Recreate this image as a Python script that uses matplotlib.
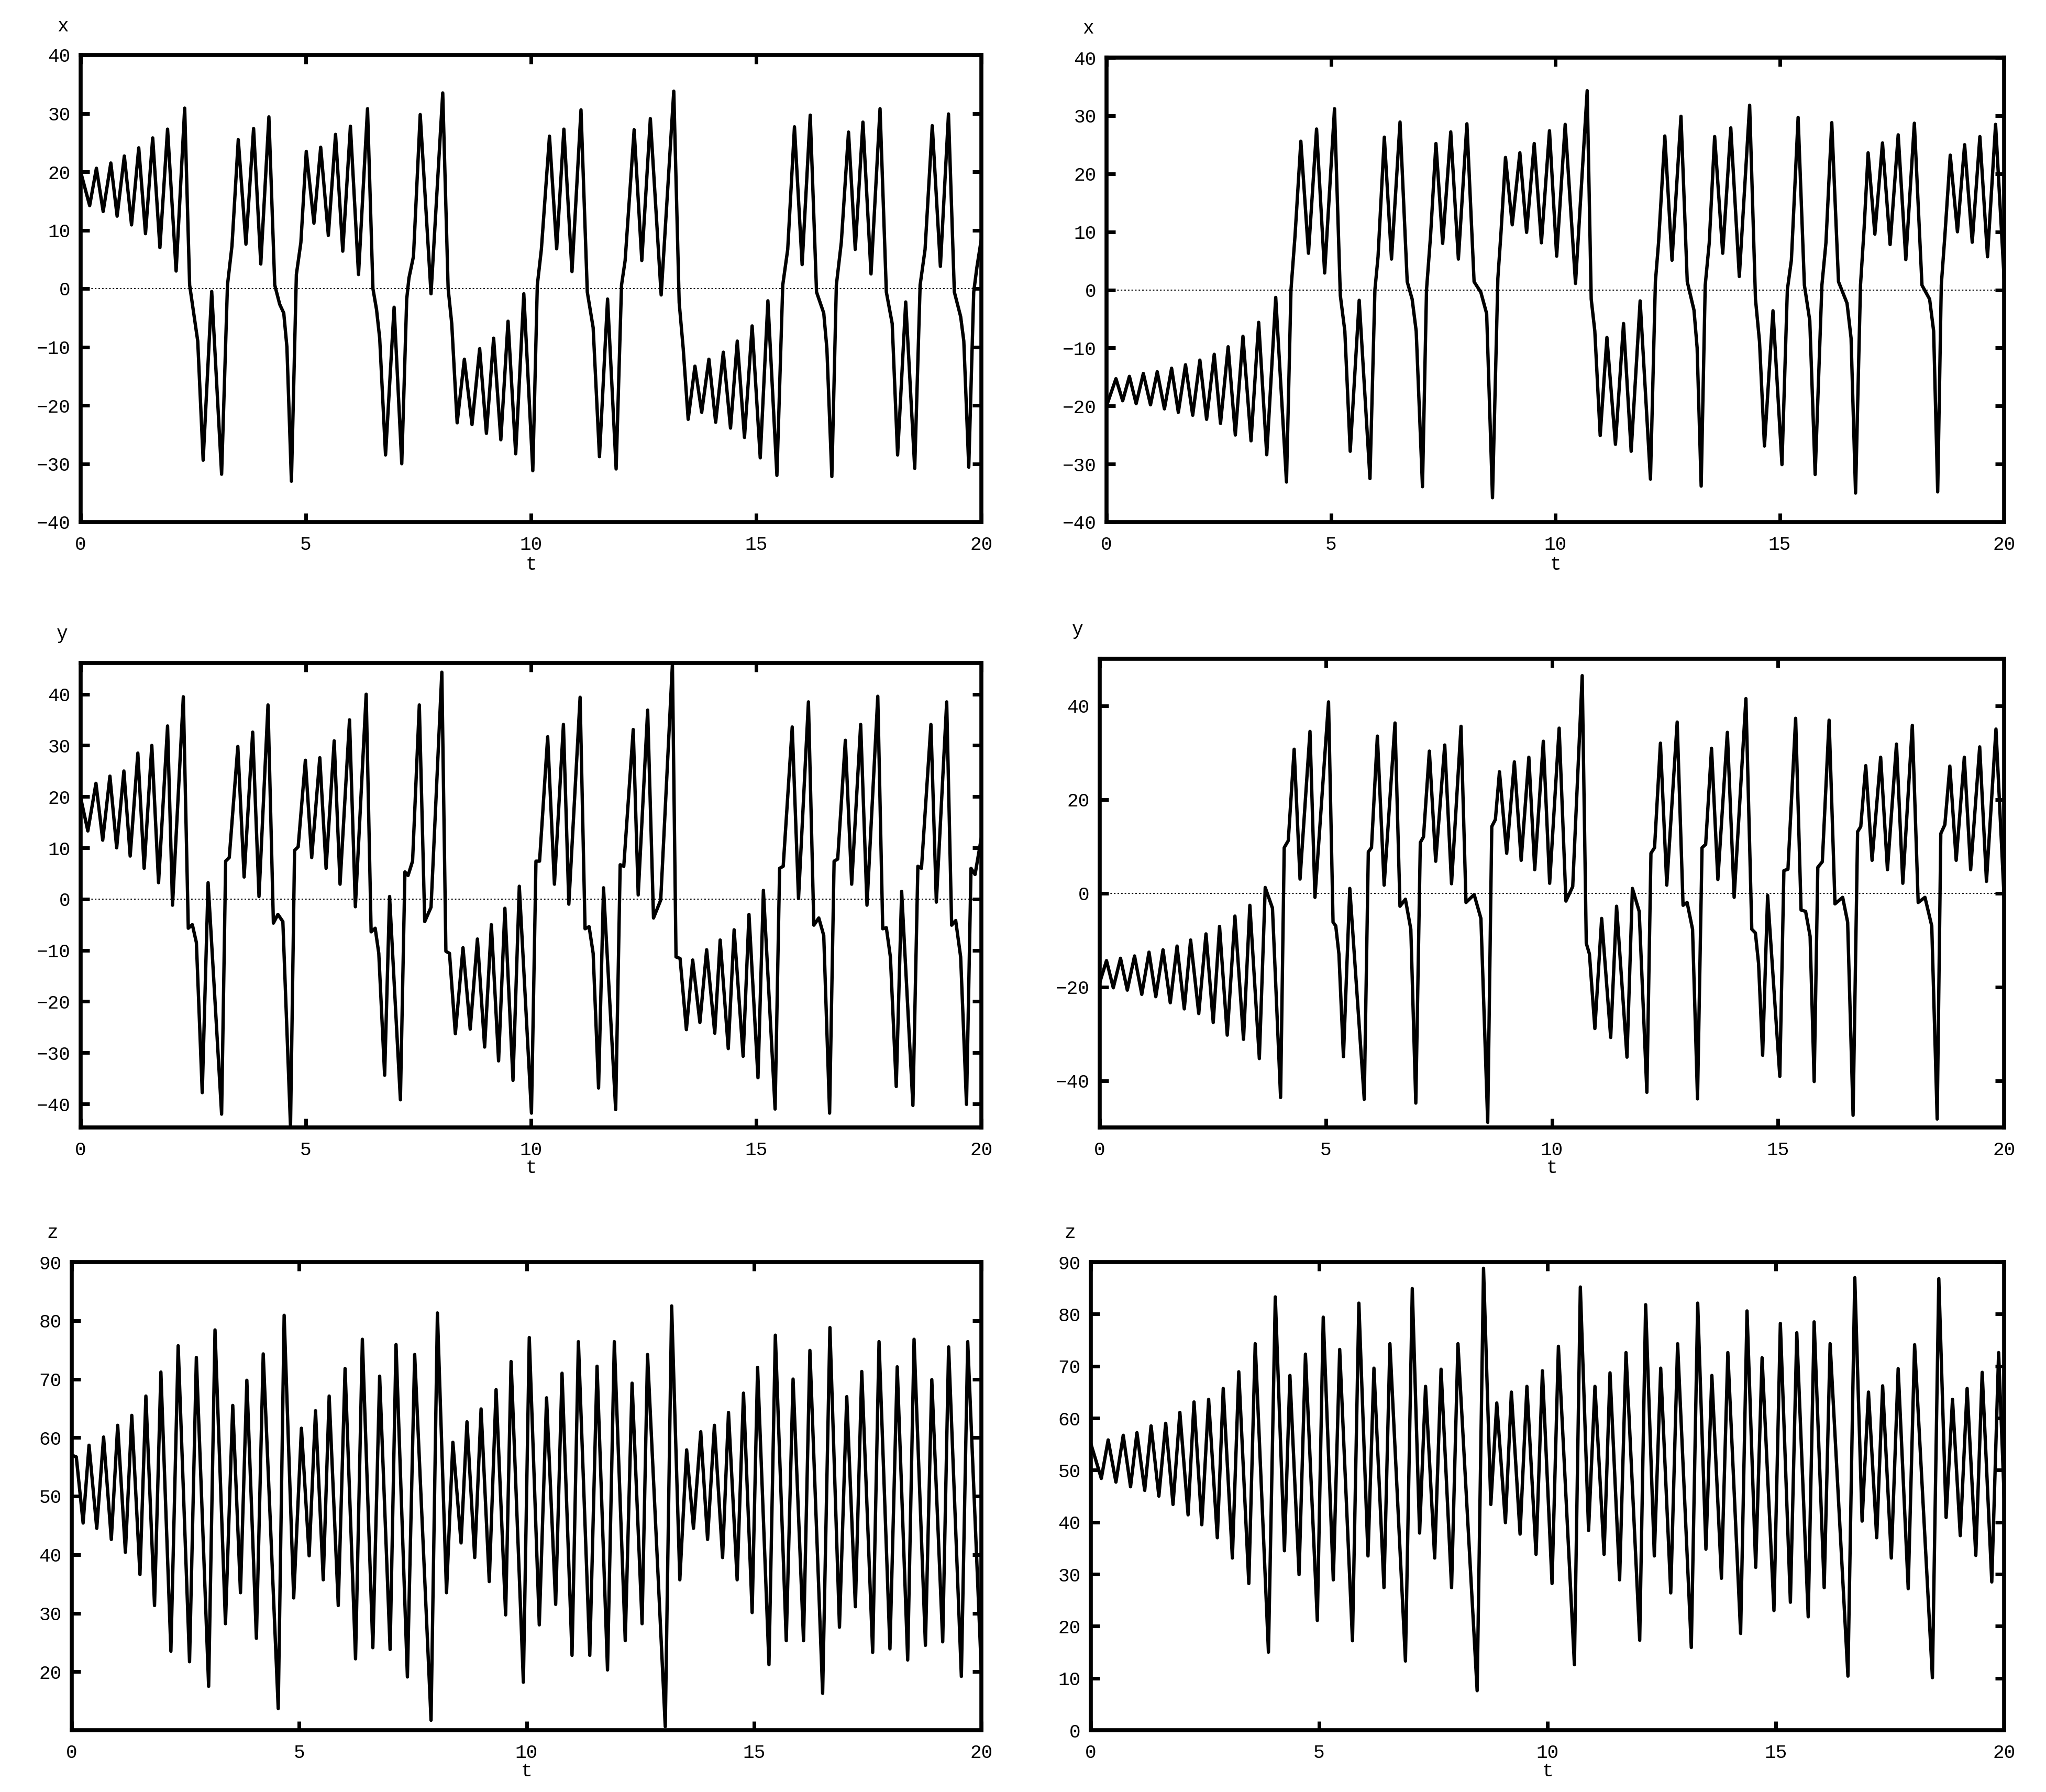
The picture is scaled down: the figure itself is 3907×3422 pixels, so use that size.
#-----------------------------------------------------------------#
# Lorenz-type time series: x, y, z vs t for two runs
#-----------------------------------------------------------------#
import matplotlib
matplotlib.use('Agg')
import matplotlib.pyplot as plt

#-----------------------------------------------------------------#
# Data (turning points and shoulders)

# left column, run 1
t_x1 = [0.00, 0.20, 0.35, 0.50, 0.67, 0.81, 0.97, 1.13, 1.29, 1.44, 1.60, 1.76, 1.93, 2.12, 2.31, 2.42, 2.51, 2.60, 2.72, 2.91,
        3.13, 3.26, 3.36, 3.50, 3.67, 3.84, 4.00, 4.18, 4.31, 4.42, 4.51, 4.58, 4.68, 4.79, 4.89, 5.01, 5.18, 5.33, 5.50, 5.66,
        5.82, 5.99, 6.17, 6.37, 6.49, 6.57, 6.64, 6.77, 6.96, 7.13, 7.24, 7.29, 7.39, 7.54, 7.78, 8.04, 8.16, 8.24, 8.36, 8.52,
        8.69, 8.86, 9.01, 9.17, 9.33, 9.49, 9.66, 9.84, 10.04, 10.14, 10.23, 10.41, 10.57, 10.73, 10.91, 11.11, 11.25, 11.38,
        11.52, 11.70, 11.89, 12.01, 12.09, 12.29, 12.46, 12.65, 12.89, 13.17, 13.29, 13.38, 13.49, 13.64, 13.79, 13.95, 14.10,
        14.27, 14.43, 14.58, 14.74, 14.91, 15.09, 15.26, 15.46, 15.59, 15.70, 15.85, 16.02, 16.20, 16.34, 16.50, 16.57, 16.68,
        16.78, 16.89, 17.05, 17.20, 17.37, 17.55, 17.75, 17.89, 18.02, 18.14, 18.32, 18.52, 18.64, 18.75, 18.91, 19.09, 19.27,
        19.40, 19.54, 19.61, 19.72, 19.83, 19.90, 20.00]
x1 = [20.0, 14.2, 20.6, 13.2, 21.5, 12.4, 22.7, 10.9, 24.1, 9.4, 25.8, 7.0, 27.3, 3.0, 30.9, 0.6, -4.2, -9.0, -29.4, -0.5,
      -31.8, 0.6, 7.3, 25.5, 7.6, 27.4, 4.2, 29.4, 0.6, -2.7, -4.2, -10.0, -33.0, 2.4, 7.9, 23.5, 11.2, 24.2, 9.1, 26.4,
      6.4, 27.8, 2.4, 30.8, 0.0, -3.6, -8.5, -28.5, -3.2, -30.0, -1.8, 1.8, 5.5, 29.8, -0.9, 33.5, 0.0, -6.0, -23.0, -12.1,
      -23.3, -10.3, -24.8, -8.5, -25.9, -5.6, -28.3, -0.9, -31.2, 0.6, 6.7, 26.1, 6.8, 27.3, 2.9, 30.6, -0.6, -6.7,
      -28.8, -1.8, -30.9, 0.6, 4.8, 27.2, 4.8, 29.1, -1.1, 33.8, -2.4, -10.3, -22.4, -13.3, -21.2, -12.1, -22.9,
      -10.9, -23.9, -9.0, -25.5, -6.4, -29.0, -2.1, -32.0, 0.6, 6.7, 27.7, 4.1, 29.7, -0.6, -4.2, -10.3, -32.2,
      0.6, 7.9, 26.8, 6.7, 28.5, 2.5, 30.8, -0.6, -6.0, -28.5, -2.3, -30.8, 0.6, 6.7, 27.9, 3.8, 29.9,
      -0.6, -4.8, -9.0, -30.6, -0.6, 3.6, 8.5]

t_y1 = [0.00, 0.16, 0.34, 0.49, 0.65, 0.80, 0.96, 1.10, 1.27, 1.41, 1.58, 1.73, 1.93, 2.04, 2.28, 2.39, 2.48, 2.57, 2.70, 2.83,
        3.13, 3.22, 3.30, 3.49, 3.63, 3.82, 3.96, 4.16, 4.28, 4.38, 4.49, 4.66, 4.75, 4.83, 4.99, 5.13, 5.31, 5.45, 5.63, 5.76,
        5.97, 6.10, 6.34, 6.45, 6.54, 6.62, 6.75, 6.86, 7.10, 7.20, 7.27, 7.37, 7.52, 7.64, 7.78, 8.02, 8.11, 8.19, 8.32, 8.49,
        8.65, 8.81, 8.97, 9.12, 9.28, 9.42, 9.60, 9.74, 10.01, 10.11, 10.19, 10.37, 10.52, 10.72, 10.84, 11.09, 11.20, 11.29,
        11.38, 11.50, 11.61, 11.88, 11.98, 12.06, 12.27, 12.38, 12.59, 12.72, 12.88, 13.14, 13.22, 13.31, 13.45, 13.59, 13.75,
        13.90, 14.08, 14.20, 14.38, 14.51, 14.71, 14.84, 15.04, 15.16, 15.42, 15.52, 15.60, 15.80, 15.94, 16.16, 16.28, 16.39,
        16.50, 16.63, 16.73, 16.81, 16.98, 17.12, 17.32, 17.46, 17.70, 17.81, 17.89, 17.98, 18.11, 18.23, 18.48, 18.59, 18.67,
        18.88, 19.00, 19.23, 19.34, 19.43, 19.54, 19.67, 19.77, 19.86, 20.00]
y1 = [19.8, 13.3, 22.6, 11.5, 24.0, 10.0, 25.0, 8.4, 28.5, 6.0, 30.0, 3.2, 33.8, -1.2, 39.5, -5.7, -5.0, -8.5, -37.8, 3.2,
      -42.0, 7.4, 8.1, 29.8, 4.3, 32.6, 0.5, 37.9, -4.7, -3.0, -4.4, -44.4, 9.5, 10.2, 27.1, 8.1, 27.6, 6.0, 30.9, 2.9,
      35.0, -1.5, 40.0, -6.4, -5.7, -10.6, -34.4, 0.5, -39.2, 5.3, 4.6, 7.4, 37.9, -4.4, -1.6, 44.3, -10.2, -10.6, -26.3, -9.5,
      -25.4, -7.8, -28.9, -5.0, -31.6, -1.8, -35.4, 2.5, -41.8, 7.4, 7.4, 31.7, 2.9, 34.1, -1.0, 39.4, -5.8, -5.4,
      -10.6, -36.9, 2.2, -41.1, 6.7, 6.4, 33.1, 0.8, 36.9, -3.7, -0.2, 45.9, -11.3, -11.6, -25.5, -11.9, -24.1,
      -9.9, -26.2, -8.0, -29.2, -6.0, -30.7, -3.0, -34.9, 1.7, -41.0, 6.0, 6.4, 33.6, 0.1, 38.5, -5.1, -3.7,
      -7.1, -41.8, 7.4, 7.8, 31.0, 2.9, 34.1, -1.2, 39.6, -5.8, -5.6, -11.3, -36.6, 1.5, -40.3, 6.4, 6.0,
      34.1, -0.6, 38.5, -5.1, -4.2, -11.3, -40.1, 6.0, 4.8, 12.0]

t_z1 = [0.00, 0.10, 0.25, 0.38, 0.55, 0.70, 0.87, 1.01, 1.18, 1.32, 1.50, 1.63, 1.82, 1.96, 2.18, 2.34, 2.59, 2.74, 3.01, 3.15,
        3.38, 3.54, 3.71, 3.85, 4.06, 4.21, 4.54, 4.67, 4.88, 5.05, 5.22, 5.36, 5.53, 5.66, 5.86, 6.01, 6.24, 6.39, 6.62, 6.77,
        7.00, 7.13, 7.38, 7.54, 7.90, 8.04, 8.24, 8.38, 8.56, 8.69, 8.86, 9.00, 9.18, 9.33, 9.54, 9.66, 9.93, 10.06, 10.28,
        10.44, 10.64, 10.78, 11.00, 11.14, 11.39, 11.55, 11.78, 11.93, 12.17, 12.32, 12.54, 12.66, 13.05, 13.19, 13.37, 13.52,
        13.67, 13.83, 13.98, 14.13, 14.31, 14.44, 14.63, 14.77, 14.96, 15.08, 15.33, 15.47, 15.71, 15.86, 16.09, 16.23, 16.51,
        16.67, 16.88, 17.04, 17.23, 17.37, 17.61, 17.75, 17.99, 18.15, 18.38, 18.52, 18.77, 18.91, 19.15, 19.28, 19.56, 19.70,
        20.00]
z1 = [57.0, 56.7, 45.4, 58.7, 44.5, 60.1, 42.6, 62.1, 40.4, 63.8, 36.6, 67.1, 31.3, 71.2, 23.5, 75.7, 21.7, 73.7, 17.5, 78.4,
      28.2, 65.5, 33.5, 69.8, 25.7, 74.3, 13.7, 80.9, 32.6, 61.6, 39.8, 64.6, 35.7, 67.1, 31.3, 71.8, 22.2, 76.8, 24.1, 70.5,
      23.8, 75.9, 19.1, 74.2, 11.7, 81.3, 33.5, 59.2, 42.0, 62.7, 39.5, 64.9, 35.4, 68.2, 29.7, 73.0, 18.2, 77.1, 28.0,
      66.8, 31.5, 71.0, 22.8, 76.4, 22.8, 72.2, 20.3, 76.4, 25.3, 69.3, 28.2, 74.2, 10.6, 82.5, 35.7, 57.9,
      44.5, 61.0, 42.6, 62.1, 39.5, 64.3, 35.7, 67.6, 30.1, 72.0, 21.2, 77.5, 25.3, 70.0, 25.3, 74.9, 16.3,
      78.8, 27.6, 67.0, 31.1, 71.3, 23.3, 76.4, 23.9, 72.1, 22.0, 76.8, 24.5, 69.9, 25.1, 75.5, 19.2, 76.4,
      20.0]

# right column, run 2
t_x2 = [0.00, 0.21, 0.36, 0.51, 0.66, 0.82, 0.98, 1.13, 1.29, 1.45, 1.60, 1.76, 1.92, 2.08, 2.23, 2.40, 2.54, 2.71, 2.87, 3.04,
        3.22, 3.39, 3.57, 3.77, 4.01, 4.11, 4.20, 4.33, 4.50, 4.68, 4.86, 5.08, 5.21, 5.31, 5.43, 5.63, 5.87, 5.98, 6.05, 6.19,
        6.35, 6.54, 6.70, 6.81, 6.90, 7.04, 7.13, 7.22, 7.34, 7.49, 7.67, 7.84, 8.03, 8.19, 8.34, 8.47, 8.60, 8.72, 8.79, 8.89,
        9.04, 9.21, 9.36, 9.53, 9.69, 9.87, 10.03, 10.22, 10.45, 10.71, 10.80, 10.88, 11.00, 11.15, 11.34, 11.52, 11.69, 11.89,
        12.12, 12.23, 12.30, 12.44, 12.60, 12.80, 12.94, 13.09, 13.16, 13.25, 13.34, 13.43, 13.55, 13.73, 13.91, 14.10, 14.33,
        14.46, 14.55, 14.66, 14.85, 15.05, 15.17, 15.26, 15.41, 15.55, 15.67, 15.79, 15.94, 16.03, 16.16, 16.31, 16.50, 16.59,
        16.69, 16.80, 16.88, 16.97, 17.12, 17.29, 17.46, 17.64, 17.81, 18.00, 18.17, 18.34, 18.43, 18.52, 18.60, 18.68, 18.80,
        18.96, 19.12, 19.29, 19.46, 19.63, 19.81, 20.00]
x2 = [-20.0, -15.3, -19.1, -14.9, -19.6, -14.4, -19.8, -14.1, -20.5, -13.5, -21.1, -12.9, -21.6, -12.1, -22.3, -11.1, -23.0, -9.8, -25.0, -8.0,
      -26.0, -5.6, -28.4, -1.3, -33.1, 0.0, 9.3, 25.6, 6.3, 27.7, 2.9, 31.2, -1.0, -7.1, -27.8, -1.8, -32.5, 0.0, 5.7, 26.3,
      5.3, 28.9, 1.4, -1.6, -7.1, -33.9, 0.0, 9.3, 25.2, 8.0, 27.2, 5.3, 28.6, 1.4, -0.4, -4.1, -35.8, 2.0, 9.9, 22.8,
      11.2, 23.6, 9.9, 25.2, 8.1, 27.4, 5.8, 28.5, 1.1, 34.3, -1.6, -7.1, -25.1, -8.2, -26.6, -5.8, -27.8, -1.9,
      -32.6, 1.4, 8.1, 26.5, 5.1, 29.9, 1.4, -3.5, -10.0, -33.8, 0.8, 8.1, 26.4, 6.3, 27.9, 2.3, 31.8,
      -1.6, -8.9, -26.9, -3.6, -30.1, 0.0, 5.1, 29.7, 0.8, -5.3, -31.8, 0.8, 8.1, 28.8, 1.4, -2.3, -8.3,
      -35.0, 0.8, 10.5, 23.6, 9.6, 25.3, 7.8, 26.7, 5.2, 28.7, 0.8, -1.6, -7.1, -34.8, 0.8, 9.3, 23.2,
      10.0, 25.0, 8.2, 26.4, 5.7, 28.5, 2.0]

t_y2 = [0.00, 0.15, 0.30, 0.46, 0.61, 0.77, 0.93, 1.09, 1.24, 1.40, 1.56, 1.71, 1.87, 2.01, 2.19, 2.35, 2.51, 2.65, 2.82, 2.99,
        3.18, 3.32, 3.53, 3.66, 3.82, 4.00, 4.08, 4.17, 4.30, 4.43, 4.65, 4.76, 5.06, 5.16, 5.22, 5.29, 5.39, 5.53, 5.85, 5.94,
        6.01, 6.14, 6.29, 6.53, 6.64, 6.76, 6.88, 6.99, 7.09, 7.16, 7.29, 7.43, 7.63, 7.78, 7.99, 8.10, 8.28, 8.43, 8.58, 8.67,
        8.75, 8.84, 9.00, 9.17, 9.32, 9.49, 9.62, 9.81, 9.95, 10.16, 10.31, 10.46, 10.67, 10.76, 10.83, 10.95, 11.10, 11.30,
        11.43, 11.66, 11.78, 11.93, 12.10, 12.19, 12.27, 12.40, 12.54, 12.77, 12.90, 12.99, 13.11, 13.22, 13.32, 13.40, 13.53,
        13.67, 13.88, 14.03, 14.29, 14.42, 14.50, 14.57, 14.66, 14.77, 15.04, 15.13, 15.22, 15.39, 15.51, 15.61, 15.71, 15.80,
        15.88, 15.98, 16.13, 16.26, 16.43, 16.54, 16.66, 16.76, 16.83, 16.94, 17.08, 17.27, 17.42, 17.62, 17.76, 17.97, 18.10,
        18.25, 18.40, 18.52, 18.60, 18.69, 18.80, 18.94, 19.12, 19.26, 19.46, 19.61, 19.82, 20.00]
y2 = [-19.1, -14.4, -20.2, -13.9, -20.7, -13.4, -21.6, -12.6, -22.1, -12.1, -23.4, -11.3, -24.7, -10.0, -25.7, -8.7, -27.6, -7.1, -30.3, -4.9,
      -31.2, -2.6, -35.3, 1.2, -3.2, -43.6, 9.7, 11.2, 30.7, 3.0, 34.5, -0.9, 40.8, -6.2, -7.0, -13.0, -34.9, 1.0, -44.0, 8.8,
      9.7, 33.5, 1.7, 36.3, -2.8, -1.3, -7.7, -44.8, 10.8, 12.0, 30.3, 6.8, 31.6, 2.0, 35.6, -2.0, -0.3, -5.4, -48.9, 14.2,
      15.7, 25.9, 8.5, 28.0, 7.0, 29.0, 5.0, 32.4, 2.1, 35.2, -1.7, 1.4, 46.4, -10.7, -13.0, -28.9, -5.4, -30.8,
      -2.8, -35.0, 1.0, -3.9, -42.5, 8.5, 9.7, 32.0, 1.7, 36.5, -2.6, -2.0, -7.7, -43.9, 9.7, 10.4, 30.9,
      2.9, 34.3, -0.9, 41.5, -7.7, -8.5, -15.0, -34.6, -0.5, -39.1, 4.8, 5.1, 37.3, -3.6, -3.9, -9.2, -40.2,
      5.5, 6.7, 36.9, -2.3, -0.9, -6.2, -47.4, 13.1, 14.2, 27.2, 7.0, 29.0, 5.0, 31.8, 2.1, 35.8, -2.0,
      -0.9, -7.0, -48.2, 12.7, 14.6, 27.1, 7.0, 29.0, 5.0, 31.2, 2.5, 35.0, -1.0]

t_z2 = [0.00, 0.23, 0.38, 0.55, 0.71, 0.87, 1.01, 1.18, 1.32, 1.49, 1.64, 1.80, 1.95, 2.13, 2.26, 2.43, 2.58, 2.77, 2.90, 3.10,
        3.24, 3.46, 3.60, 3.89, 4.04, 4.24, 4.36, 4.56, 4.70, 4.96, 5.09, 5.31, 5.45, 5.73, 5.87, 6.07, 6.20, 6.42, 6.55, 6.89,
        7.04, 7.20, 7.33, 7.53, 7.67, 7.90, 8.04, 8.46, 8.60, 8.76, 8.89, 9.08, 9.21, 9.40, 9.55, 9.75, 9.89, 10.10, 10.24,
        10.59, 10.72, 10.90, 11.04, 11.24, 11.37, 11.58, 11.72, 12.02, 12.15, 12.34, 12.48, 12.70, 12.85, 13.15, 13.29, 13.47,
        13.60, 13.81, 13.95, 14.23, 14.37, 14.56, 14.70, 14.96, 15.10, 15.32, 15.46, 15.71, 15.84, 16.06, 16.19, 16.58, 16.73,
        16.89, 17.03, 17.21, 17.34, 17.53, 17.68, 17.90, 18.04, 18.43, 18.57, 18.73, 18.87, 19.04, 19.19, 19.38, 19.52, 19.73,
        19.88, 20.00]
z2 = [55.1, 48.4, 55.8, 47.7, 56.7, 46.8, 57.2, 46.1, 58.5, 45.0, 59.0, 43.4, 61.1, 41.4, 63.1, 39.5, 63.6, 37.0, 65.7, 33.1,
      68.9, 28.2, 74.3, 15.0, 83.3, 34.5, 68.2, 29.9, 72.3, 21.1, 79.4, 28.9, 73.2, 17.2, 82.1, 33.5, 69.6, 27.4, 74.3, 13.3,
      84.9, 37.9, 66.1, 33.1, 69.4, 27.4, 74.3, 7.6, 88.8, 43.4, 62.9, 39.9, 65.0, 37.7, 66.1, 33.8, 69.1, 28.2, 73.8,
      12.6, 85.2, 38.4, 66.1, 33.8, 68.7, 28.9, 72.6, 17.3, 81.8, 33.5, 69.6, 26.4, 74.3, 15.9, 82.1, 34.8,
      68.2, 29.2, 72.6, 18.6, 80.6, 31.3, 71.6, 23.0, 78.2, 24.6, 76.4, 21.8, 78.5, 27.4, 74.3, 10.4, 87.0,
      40.2, 65.0, 37.0, 66.2, 33.1, 69.5, 27.2, 74.1, 10.1, 86.8, 40.9, 63.6, 37.4, 65.7, 33.6, 68.8, 28.5,
      72.6, 45.0]

#-----------------------------------------------------------------#
W, H = 3907, 3422
plt.rcParams['font.family'] = ['Liberation Mono', 'DejaVu Sans Mono']
plt.rcParams['font.size'] = 26

fig = plt.figure(figsize=(W / 100, H / 100), dpi=100)


def panel(box, t, v, name, ylim, yticks, zero_line, lab_dx, t_dy):
    # box = (left, top, right, bottom) in pixels
    l, tp, r, b = box
    ax = fig.add_axes([l / W, 1 - b / H, (r - l) / W, (b - tp) / H])
    ax.plot(t, v, color='black', lw=4.6)
    if zero_line:
        ax.axhline(0, color='black', lw=1.4, ls=(0, (1.5, 2.0)), zorder=1)
    ax.set_xlim(0, 20)
    ax.set_ylim(*ylim)
    ax.set_xticks([0, 5, 10, 15, 20])
    ax.set_yticks(yticks)
    ax.tick_params(direction='in', top=True, right=True, length=12, width=5, labelsize=26)
    ax.tick_params(axis='x', pad=19)
    ax.tick_params(axis='y', pad=14)
    for s in ax.spines.values():
        s.set_linewidth(5.5)
    # axis names: variable above the y labels, t under the middle x label
    ax.annotate(name, xy=(0, 1), xycoords='axes fraction', xytext=(lab_dx, 55),
                textcoords='offset pixels', ha='center', va='center', fontsize=26)
    ax.annotate('t', xy=(0.5, 0), xycoords='axes fraction', xytext=(0, t_dy),
                textcoords='offset pixels', ha='center', va='center', fontsize=26)
    return ax


panel((154, 105, 1874, 997), t_x1, x1, 'x', (-40, 40), range(-40, 41, 10), True, -34, -82)
panel((2113, 110, 3827, 997), t_x2, x2, 'x', (-40, 40), range(-40, 41, 10), True, -35, -82)
panel((154, 1266, 1874, 2153), t_y1, y1, 'y', (-44.6, 46.1), range(-40, 41, 10), True, -35, -78)
panel((2100, 1258, 3827, 2153), t_y2, y2, 'y', (-50, 50), range(-40, 41, 20), True, -42, -78)
panel((137, 2410, 1874, 3304), t_z1, z1, 'z', (10, 90), range(20, 91, 10), False, -37, -78)
panel((2083, 2410, 3827, 3304), t_z2, z2, 'z', (0, 90), range(0, 91, 10), False, -40, -78)

plt.savefig('out.png', dpi=100)
